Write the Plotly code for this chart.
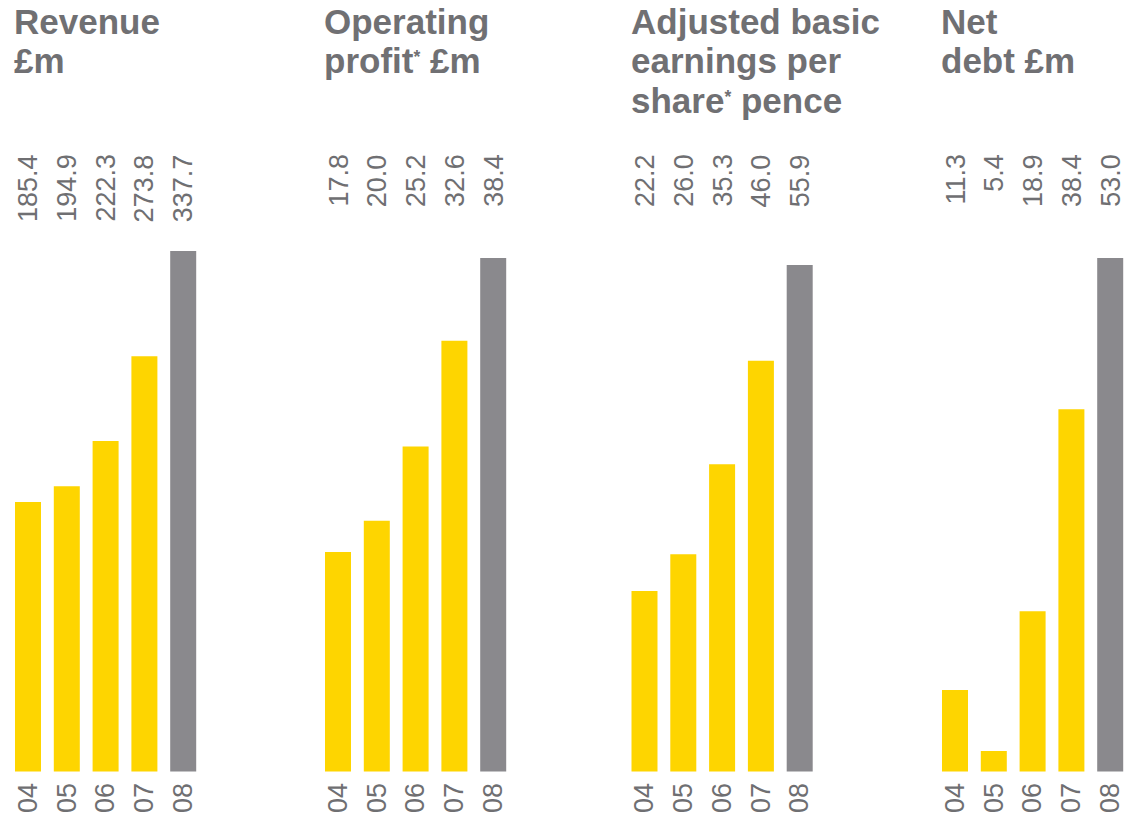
import plotly.graph_objects as go

# Five-year summary figures
years = ["04", "05", "06", "07", "08"]
revenue = [185.4, 194.9, 222.3, 273.8, 337.7]
operating_profit = [17.8, 20.0, 25.2, 32.6, 38.4]
adjusted_eps = [22.2, 26.0, 35.3, 46.0, 55.9]
net_debt = [11.3, 5.4, 18.9, 38.4, 53.0]

STAR = "<span style='font-size:25px'><sup>*</sup></span>"
titles = [
    ["Revenue", "£m"],
    ["Operating", f"profit{STAR} £m"],
    ["Adjusted basic", "earnings per", f"share{STAR} pence"],
    ["Net", "debt £m"],
]
series = [revenue, operating_profit, adjusted_eps, net_debt]

W, H = 1130, 816
YELLOW = "#fed500"
GREY_BAR = "#8a898d"
TITLE_GREY = "#707073"
LABEL_GREY = "#6f6f72"

# panel layout (pixels): left edge of first bar, bar pitch, bar width
panel_left = [15, 325, 631.5, 942]
pitch = 38.8
bar_w = 26
plot_bottom = 771.5
plot_top = 240
# value shown at the bottom edge and pixels per unit for each panel
axis_floor = [21.8, 2.42, 3.55, 3.42]
px_per_unit = [1.648, 14.27, 9.674, 10.357]

fig = go.Figure()
annotations = []
for i, (vals, left) in enumerate(zip(series, panel_left)):
    n = i + 1
    xa = "x" if n == 1 else f"x{n}"
    ya = "y" if n == 1 else f"y{n}"
    colors = [YELLOW] * (len(vals) - 1) + [GREY_BAR]
    fig.add_trace(go.Bar(
        x=years, y=vals, marker=dict(color=colors, line=dict(width=0)),
        xaxis=xa, yaxis=ya, showlegend=False, hoverinfo="x+y",
    ))
    d0 = left - (pitch - bar_w) / 2
    d1 = d0 + pitch * len(years)
    lo = axis_floor[i]
    hi = lo + (plot_bottom - plot_top) / px_per_unit[i]
    xkey = "xaxis" if n == 1 else f"xaxis{n}"
    ykey = "yaxis" if n == 1 else f"yaxis{n}"
    fig.update_layout(**{
        xkey: dict(domain=[d0 / W, min(d1 / W, 1)], anchor=ya, type="category",
                   categoryorder="array", categoryarray=years,
                   showgrid=False, zeroline=False, showline=False,
                   ticks="", tickangle=-90, ticklabelstandoff=5,
                   tickfont=dict(family="Liberation Sans", size=27, color=LABEL_GREY),
                   fixedrange=True),
        ykey: dict(domain=[(H - plot_bottom) / H, (H - plot_top) / H], anchor=xa,
                   range=[lo, hi], visible=False, fixedrange=True),
    })
    # value labels above the bars
    for k, v in enumerate(vals):
        annotations.append(dict(
            x=k, xref=xa, y=(H - 152) / H, yref="paper",
            text=f"{v:.1f}", textangle=-90, showarrow=False,
            xanchor="center", yanchor="top",
            font=dict(family="Liberation Sans", size=27, color=LABEL_GREY),
        ))
    # panel heading, one annotation per line
    for j, line in enumerate(titles[i]):
        baseline = 33 + 39.5 * j
        annotations.append(dict(
            x=(left - 3) / W, xref="paper", y=(H - (baseline - 12)) / H, yref="paper",
            text=line, showarrow=False, xanchor="left", yanchor="middle",
            font=dict(family="Liberation Sans", size=35, color=TITLE_GREY, weight="bold"),
        ))

fig.update_layout(
    width=W, height=H,
    margin=dict(l=0, r=0, t=0, b=0),
    paper_bgcolor="white", plot_bgcolor="white",
    bargap=1 - bar_w / pitch,
    annotations=annotations,
)

fig.write_html("out.html")
